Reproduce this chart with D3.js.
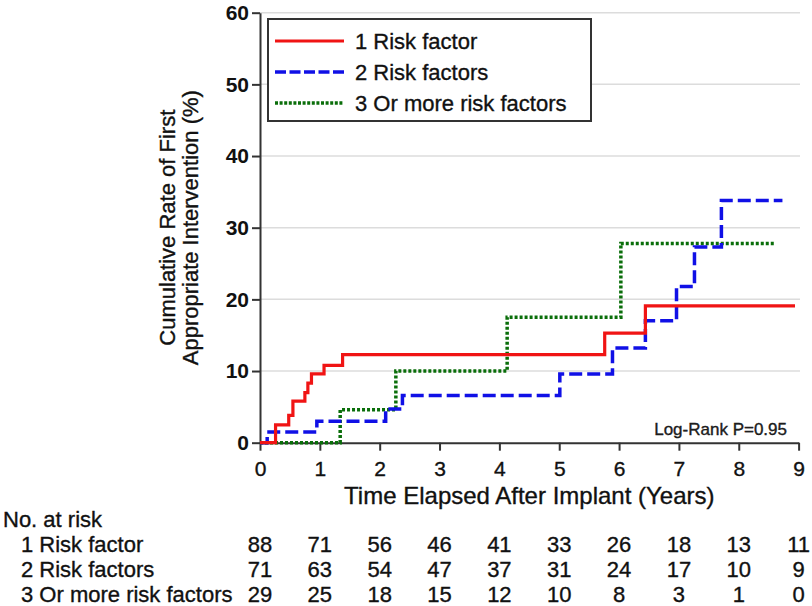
<!DOCTYPE html>
<html>
<head>
<meta charset="utf-8">
<script src="https://cdn.jsdelivr.net/npm/d3@7/dist/d3.min.js"></script>
<style>
  html, body { margin: 0; padding: 0; background: #fff; }
  svg { display: block; font-family: "Liberation Sans", Arial, Helvetica, sans-serif; }
  .heavy { stroke: #111; stroke-width: 0.35px; }
</style>
</head>
<body>
<svg id="chart" width="812" height="606"></svg>
<script>
// ---- data ----
const seriesNames = ["1 Risk factor", "2 Risk factors", "3 Or more risk factors"];
const seriesColors = ["#f01414", "#1010e6", "#0a6e0a"];
const yTicks = [0, 10, 20, 30, 40, 50, 60];
const xTicks = [0, 1, 2, 3, 4, 5, 6, 7, 8, 9];

const time1 = [0, 0.26, 0.48, 0.55, 0.75, 0.80, 0.86, 1.07, 1.38, 5.76, 6.44, 8.94];
const rate1 = [0, 2.5, 3.8, 5.8, 7.0, 8.3, 9.6, 10.8, 12.3, 15.3, 19.1, 19.1];

const time2 = [0, 0.12, 0.95, 2.10, 2.38, 5.01, 5.89, 6.44, 6.96, 7.26, 7.71, 8.73];
const rate2 = [0, 1.5, 3.0, 4.7, 6.6, 9.6, 13.2, 17.0, 21.8, 27.3, 33.8, 33.8];

const time3 = [0, 1.34, 2.27, 4.13, 6.03, 8.60];
const rate3 = [0, 4.6, 10.0, 17.5, 27.8, 27.8];

const atRisk1 = [88, 71, 56, 46, 41, 33, 26, 18, 13, 11];
const atRisk2 = [71, 63, 54, 47, 37, 31, 24, 17, 10, 9];
const atRisk3 = [29, 25, 18, 15, 12, 10, 8, 3, 1, 0];

const pValueText = "Log-Rank P=0.95";
const xTitle = "Time Elapsed After Implant (Years)";
const yTitle = ["Cumulative Rate of First", "Appropriate Intervention (%)"];
const tableTitle = "No. at risk";

// ---- drawing ----
const svg = d3.select("#chart");
const x = d3.scaleLinear().domain([0, 9]).range([260, 798.6]);
const y = d3.scaleLinear().domain([0, 60]).range([442.7, 12.7]);

// gridlines
svg.append("g").selectAll("line")
  .data(yTicks.filter(d => d > 0))
  .join("line")
  .attr("x1", x(0)).attr("x2", 800)
  .attr("y1", d => y(d)).attr("y2", d => y(d))
  .attr("stroke", "#dcdcdc").attr("stroke-width", 1.5);

// axes
const yAxis = svg.append("g")
  .attr("transform", `translate(${x(0)},0)`)
  .call(d3.axisLeft(y).tickValues(yTicks).tickSize(8).tickPadding(3).tickSizeOuter(0));
yAxis.select(".domain").attr("stroke", "#333").attr("stroke-width", 2);
yAxis.selectAll(".tick line").attr("stroke", "#333").attr("stroke-width", 2);
yAxis.selectAll(".tick text").attr("font-size", 21).attr("font-weight", "bold")
  .attr("fill", "#111").attr("font-family", "'Liberation Sans', Arial, sans-serif");

const xAxis = svg.append("g")
  .attr("transform", `translate(0,${y(0)})`)
  .call(d3.axisBottom(x).tickValues(xTicks).tickSize(8).tickPadding(10).tickSizeOuter(0));
xAxis.select(".domain").attr("stroke", "#333").attr("stroke-width", 2);
xAxis.selectAll(".tick line").attr("stroke", "#333").attr("stroke-width", 2);
xAxis.selectAll(".tick text").attr("font-size", 21).attr("class", "heavy")
  .attr("fill", "#111").attr("font-family", "'Liberation Sans', Arial, sans-serif");

// curves
const series = [
  { t: time1, r: rate1, dash: null, w: 3.2 },
  { t: time2, r: rate2, dash: "13,5", w: 3.5 },
  { t: time3, r: rate3, dash: "3,2", w: 3.5 }
];
const line = d3.line().x(d => x(d[0])).y(d => y(d[1])).curve(d3.curveStepAfter);
const curveOrder = [2, 1, 0];
curveOrder.forEach(i => {
  const s = series[i];
  svg.append("path")
    .datum(d3.zip(s.t, s.r))
    .attr("d", line)
    .attr("fill", "none")
    .attr("stroke", seriesColors[i])
    .attr("stroke-width", s.w)
    .attr("stroke-dasharray", s.dash);
});

// legend
const lg = svg.append("g");
lg.append("rect").attr("x", 268).attr("y", 19).attr("width", 323).attr("height", 102)
  .attr("fill", "#fff").attr("stroke", "#333").attr("stroke-width", 2);
const legendY = d3.scalePoint().domain(seriesNames).range([41, 103]);
seriesNames.forEach((name, i) => {
  lg.append("line").attr("x1", 275).attr("x2", 344)
    .attr("y1", legendY(name)).attr("y2", legendY(name))
    .attr("stroke", seriesColors[i]).attr("stroke-width", series[i].w)
    .attr("stroke-dasharray", i === 1 ? "11,3.5" : (i === 2 ? "3,1.6" : null));
  lg.append("text").attr("x", 355).attr("y", legendY(name) + 8).attr("class", "heavy")
    .attr("font-size", 22).attr("fill", "#111").text(name);
});

// p-value
svg.append("text").attr("x", 787).attr("y", 435).attr("text-anchor", "end").attr("class", "heavy")
  .attr("font-size", 17).attr("fill", "#222").text(pValueText);

// axis titles
svg.append("text").attr("x", x(4.5)).attr("y", 504).attr("text-anchor", "middle").attr("class", "heavy")
  .attr("font-size", 24).attr("fill", "#111").text(xTitle);
const yMid = (y(0) + y(60)) / 2;
yTitle.forEach((t, i) => {
  svg.append("text")
    .attr("transform", `translate(${175 + i * 23},${yMid}) rotate(-90)`)
    .attr("text-anchor", "middle").attr("class", "heavy")
    .attr("font-size", 22).attr("fill", "#111").text(t);
});

// number at risk table
svg.append("text").attr("x", 3).attr("y", 527).attr("class", "heavy")
  .attr("font-size", 22).attr("fill", "#111").text(tableTitle);
const tableRows = [atRisk1, atRisk2, atRisk3];
tableRows.forEach((row, i) => {
  const by = 552 + i * 25;
  svg.append("text").attr("x", 21).attr("y", by).attr("class", "heavy")
    .attr("font-size", 22).attr("fill", "#111").text(seriesNames[i]);
  svg.append("g").selectAll("text").data(row).join("text")
    .attr("x", (d, j) => x(xTicks[j]))
    .attr("y", by)
    .attr("text-anchor", "middle").attr("class", "heavy")
    .attr("font-size", 22).attr("fill", "#111")
    .text(d => d);
});
</script>
</body>
</html>
